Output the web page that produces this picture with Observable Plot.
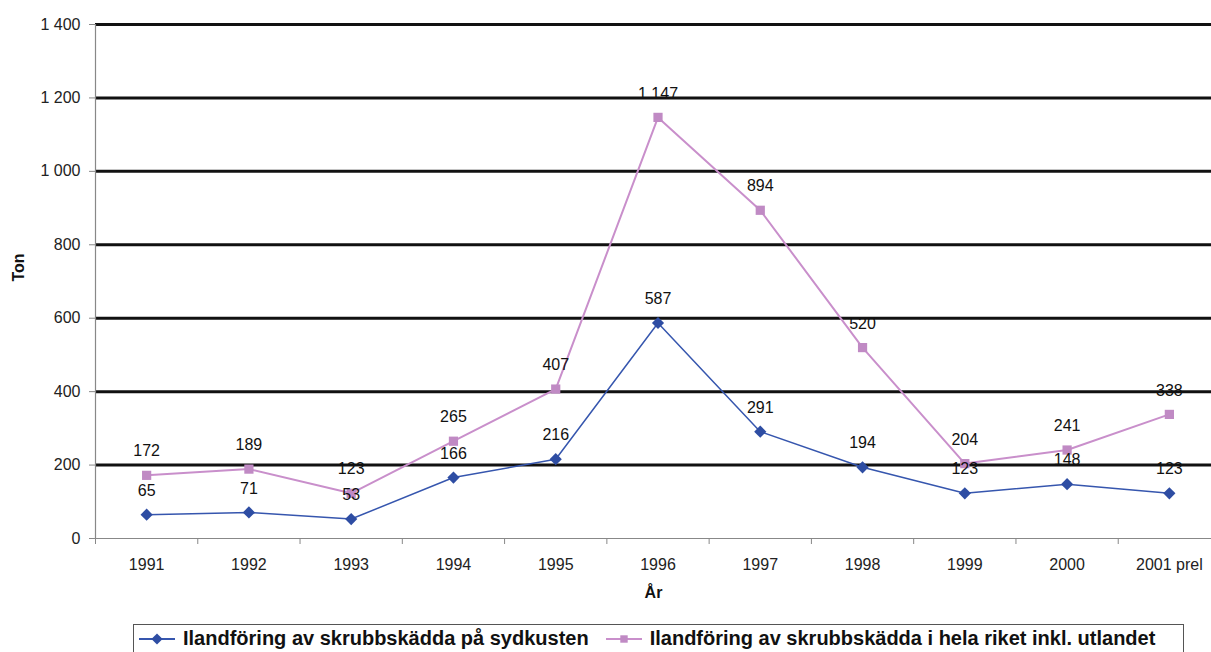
<!DOCTYPE html>
<html><head><meta charset="utf-8">
<script src="https://cdn.jsdelivr.net/npm/d3@7"></script>
<script src="https://cdn.jsdelivr.net/npm/@observablehq/plot@0.6"></script>
<style>
body{margin:0;background:#fff;font-family:"Liberation Sans",Arial,sans-serif;width:1211px;height:652px;overflow:hidden}
#legend{position:absolute;left:133px;top:624px;width:1051px;height:40px;border:1px solid #555;box-sizing:border-box;display:flex;align-items:flex-start;padding-top:2px;font-family:"Liberation Sans Narrow","Liberation Sans",Arial,sans-serif;font-weight:bold;font-size:20px;color:#111;white-space:nowrap}
.item{display:flex;align-items:center;margin-left:3px;margin-right:12px}
.item svg{margin-right:6px}
</style></head><body>
<div id="chart"></div>
<div id="legend"></div>
<script>
const years = ["1991","1992","1993","1994","1995","1996","1997","1998","1999","2000","2001 prel"];
const sydkusten = [65,71,53,166,216,587,291,194,123,148,123];
const helaRiket = [172,189,123,265,407,1147,894,520,204,241,338];
const yTicks = [0,200,400,600,800,1000,1200,1400];
const gridValues = [200,400,600,800,1000,1200,1400];
const seriesNames = ["Ilandföring av skrubbskädda på sydkusten","Ilandföring av skrubbskädda i hela riket inkl. utlandet"];
const colors = ["#2E4DA3","#C08AC4"];
const lineColors = ["#3656AE","#C98FCB"];

const loc = d3.formatLocale({decimal:",",thousands:" ",grouping:[3],currency:["",""]});
const fmt = loc.format(",");

const idx = years.map((_, i) => i);
const blue = idx.map(i => ({x:i, y:sydkusten[i]}));
const pink = idx.map(i => ({x:i, y:helaRiket[i]}));
const boundaries = d3.range(-0.5, years.length, 1);

const plot = Plot.plot({
  width:1211, height:618,
  marginLeft:95, marginTop:24, marginRight:0, marginBottom:80,
  style:{fontFamily:"'Liberation Sans', Arial, sans-serif", fontSize:"16px", color:"#222", background:"#fff"},
  x:{domain:[-0.5, years.length-0.5], range:[95, 1220]},
  y:{domain:[0,1400], range:[538,24]},
  marks:[
    Plot.ruleY(gridValues, {stroke:"#111", strokeWidth:3}),
    Plot.ruleY([0], {stroke:"#888", strokeWidth:1.2}),
    Plot.ruleX([-0.5], {y1:0, y2:1400, stroke:"#888", strokeWidth:1.2}),
    Plot.axisY({ticks:yTicks, tickFormat:fmt, tickSize:6, tickPadding:9, stroke:"#888", label:null, fontSize:16}),
    Plot.axisX({ticks:boundaries, tickFormat:()=>"", tickSize:6, stroke:"#888", label:null}),
    Plot.axisX({ticks:idx, tickFormat:i=>years[i], tickSize:0, tickPadding:20, label:null, fontSize:16}),
    Plot.text(["Ton"], {frameAnchor:"left", dx:-77, rotate:-90, fontWeight:"bold", fontSize:16, fill:"#111"}),
    Plot.text(["År"], {frameAnchor:"bottom", dy:59, fontWeight:"bold", fontSize:16, fill:"#111"}),
    Plot.line(pink, {x:"x", y:"y", stroke:lineColors[1], strokeWidth:2}),
    Plot.line(blue, {x:"x", y:"y", stroke:lineColors[0], strokeWidth:1.5}),
    Plot.dot(pink, {x:"x", y:"y", symbol:"square", r:5.2, fill:colors[1], stroke:"none"}),
    Plot.dot(blue, {x:"x", y:"y", symbol:"diamond2", r:5.5, fill:colors[0], stroke:"none"}),
    Plot.text(pink, {x:"x", y:"y", text:d=>fmt(d.y), dy:-24, fontSize:16, fill:"#111"}),
    Plot.text(blue, {x:"x", y:"y", text:d=>fmt(d.y), dy:-24, fontSize:16, fill:"#111"})
  ]
});
document.getElementById("chart").appendChild(plot);

const leg = d3.select("#legend");
seriesNames.forEach((name, i) => {
  const it = leg.append("div").attr("class","item");
  const s = it.append("svg").attr("width",40).attr("height",20);
  s.append("line").attr("x1",2).attr("x2",38).attr("y1",10).attr("y2",10).attr("stroke",lineColors[i]).attr("stroke-width",2);
  s.append("path").attr("transform","translate(20,10)").attr("d", d3.symbol(i===0?d3.symbolDiamond2:d3.symbolSquare2, i===0?80:70)()).attr("fill",colors[i]);
  it.append("span").text(name);
});
</script>
</body></html>
